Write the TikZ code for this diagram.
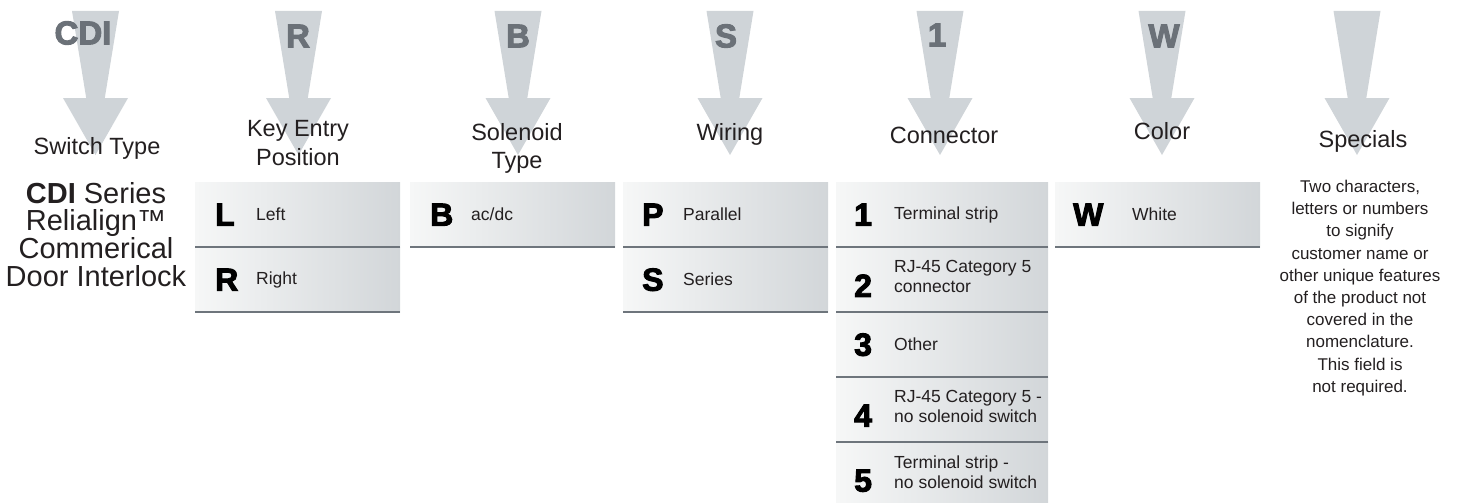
\documentclass[tikz,border=0pt]{standalone}
\usepackage{fontspec}
\setmainfont{Liberation Sans}
\newfontfamily\codefont{Liberation Sans}[BoldFeatures={FakeBold=3}]
\usepackage{tikz}
\usetikzlibrary{positioning}

\definecolor{pointergray}{HTML}{CFD4D8}
\definecolor{lettergray}{HTML}{6B7178}
\definecolor{rulegray}{HTML}{6E757C}
\definecolor{boxlight}{HTML}{F6F7F7}
\definecolor{boxdark}{HTML}{D2D6D9}
\definecolor{inkblack}{HTML}{231F20}

\begin{document}
\begin{tikzpicture}[x=1pt, y=-1pt]
      \tikzstyle{pointer} = [
        fill=pointergray
      ]

      \tikzstyle{topcode} = [
        text=lettergray,
        font=\codefont\bfseries\fontsize{33}{33}\selectfont,
        inner sep=0pt
      ]

      \tikzstyle{heading} = [
        text=inkblack,
        font=\fontsize{23.5}{29}\selectfont,
        align=center,
        inner sep=0pt
      ]

      \tikzstyle{optbox} = [
        rectangle,
        left color=boxlight,
        right color=boxdark,
        minimum width=205pt,
        minimum height=65pt,
        anchor=north west,
        inner sep=0pt
      ]

      \tikzstyle{optcode} = [
        text=black,
        font=\codefont\bfseries\fontsize{32}{32}\selectfont,
        anchor=west,
        inner sep=0pt
      ]

      \tikzstyle{opttext} = [
        text=inkblack,
        font=\fontsize{17.5}{20}\selectfont,
        align=left,
        anchor=west,
        inner sep=0pt
      ]

      \tikzstyle{rule} = [
        draw=rulegray,
        line width=2pt
      ]

      \useasboundingbox (0,0) rectangle (1461,503);

      % pointers
      \fill[pointer] (95.5,11) ++(-23.5,0) -- ++(47,0) -- ++(-14.2,87) -- ++(23.2,0) -- ++(-32.5,57) -- ++(-32.5,-57) -- ++(23.2,0) -- cycle;
      \fill[pointer] (298.5,11) ++(-23.5,0) -- ++(47,0) -- ++(-14.2,87) -- ++(23.2,0) -- ++(-32.5,57) -- ++(-32.5,-57) -- ++(23.2,0) -- cycle;
      \fill[pointer] (518,11) ++(-23.5,0) -- ++(47,0) -- ++(-14.2,87) -- ++(23.2,0) -- ++(-32.5,57) -- ++(-32.5,-57) -- ++(23.2,0) -- cycle;
      \fill[pointer] (730,11) ++(-23.5,0) -- ++(47,0) -- ++(-14.2,87) -- ++(23.2,0) -- ++(-32.5,57) -- ++(-32.5,-57) -- ++(23.2,0) -- cycle;
      \fill[pointer] (940,11) ++(-23.5,0) -- ++(47,0) -- ++(-14.2,87) -- ++(23.2,0) -- ++(-32.5,57) -- ++(-32.5,-57) -- ++(23.2,0) -- cycle;
      \fill[pointer] (1162,11) ++(-23.5,0) -- ++(47,0) -- ++(-14.2,87) -- ++(23.2,0) -- ++(-32.5,57) -- ++(-32.5,-57) -- ++(23.2,0) -- cycle;
      \fill[pointer] (1357,11) ++(-23.5,0) -- ++(47,0) -- ++(-14.2,87) -- ++(23.2,0) -- ++(-32.5,57) -- ++(-32.5,-57) -- ++(23.2,0) -- cycle;

      \node[topcode] (topCDI) at (83,33) {CDI};
      \node[topcode] (topR) at (298,36) {R};
      \node[topcode] (topB) at (518,36) {B};
      \node[topcode] (topS) at (726,36) {S};
      \node[topcode] (topOne) at (937,35) {1};
      \node[topcode] (topW) at (1164,36) {W};

      % headings
      \node[heading, anchor=base] (switchtype) at (97,154) {Switch Type};
      \node[heading, anchor=north] (keyentry) at (298,120) {Key Entry\\Position};
      \node[heading, anchor=north, font=\fontsize{23.5}{28}\selectfont] (solenoid) at (517,123) {Solenoid\\Type};
      \node[heading, anchor=base] (wiring) at (730,140) {Wiring};
      \node[heading, anchor=base] (connector) at (944,143) {Connector};
      \node[heading, anchor=base] (color) at (1162,139) {Color};
      \node[heading, anchor=base] (specials) at (1363,147) {Specials};

      \node[heading, anchor=north, font=\fontsize{29}{27.7}\selectfont] (series) at (96,182)
      {\textbf{CDI} Series\\Relialign™\\Commerical\\Door Interlock};

      \node[opttext, align=center, anchor=north, font=\fontsize{17}{22.2}\selectfont] (specialtext) at (1360,180)
      {Two characters,\\letters or numbers\\to signify\\customer name or\\other unique features\\of the product not\\covered in the\\nomenclature.\\This field is\\not required.};

      % key entry position
      \node[optbox] (keyL) at (195,182) {};
      \node[optbox] (keyR) at (195,247) {};
      \draw[rule] (keyL.south west) -- (keyL.south east);
      \draw[rule] (keyR.south west) -- (keyR.south east);
      \node[optcode] (keyLcode) at ([xshift=20pt]keyL.west) {L};
      \node[opttext] (keyLtext) at ([xshift=61pt]keyL.west) {Left};
      \node[optcode] (keyRcode) at ([xshift=20pt]keyR.west) {R};
      \node[opttext] (keyRtext) at ([xshift=61pt]keyR.west) {Right};

      % solenoid type
      \node[optbox] (solB) at (410,182) {};
      \draw[rule] (solB.south west) -- (solB.south east);
      \node[optcode] (solBcode) at ([xshift=20pt]solB.west) {B};
      \node[opttext] (solBtext) at ([xshift=61pt]solB.west) {ac/dc};

      % wiring
      \node[optbox] (wirP) at (623,182) {};
      \node[optbox] (wirS) at (623,247) {};
      \draw[rule] (wirP.south west) -- (wirP.south east);
      \draw[rule] (wirS.south west) -- (wirS.south east);
      \node[optcode] (wirPcode) at ([xshift=19pt]wirP.west) {P};
      \node[opttext] (wirPtext) at ([xshift=60pt]wirP.west) {Parallel};
      \node[optcode] (wirScode) at ([xshift=19pt]wirS.west) {S};
      \node[opttext] (wirStext) at ([xshift=60pt]wirS.west) {Series};

      % connector
      \node[optbox, minimum width=212pt] (conOne) at (836,182) {};
      \node[optbox, minimum width=212pt] (conTwo) at (836,247) {};
      \node[optbox, minimum width=212pt] (conThree) at (836,312) {};
      \node[optbox, minimum width=212pt] (conFour) at (836,377) {};
      \node[optbox, minimum width=212pt, minimum height=61pt] (conFive) at (836,442) {};
      \draw[rule] (conOne.south west) -- (conOne.south east);
      \draw[rule] (conTwo.south west) -- (conTwo.south east);
      \draw[rule] (conThree.south west) -- (conThree.south east);
      \draw[rule] (conFour.south west) -- (conFour.south east);
      \node[optcode] (conOnecode) at ([xshift=18pt]conOne.west) {1};
      \node[opttext] (conOnetext) at ([xshift=58pt]conOne.west) {Terminal strip};
      \node[optcode] (conTwocode) at ([xshift=18pt, yshift=-6pt]conTwo.west) {2};
      \node[opttext] (conTwotext) at ([xshift=58pt, yshift=3pt]conTwo.west) {RJ-45 Category 5\\connector};
      \node[optcode] (conThreecode) at ([xshift=18pt]conThree.west) {3};
      \node[opttext] (conThreetext) at ([xshift=58pt]conThree.west) {Other};
      \node[optcode] (conFourcode) at ([xshift=18pt, yshift=-6pt]conFour.west) {4};
      \node[opttext] (conFourtext) at ([xshift=58pt, yshift=3pt]conFour.west) {RJ-45 Category 5 -\\no solenoid switch};
      \node[optcode] (conFivecode) at ([xshift=18pt, yshift=-8pt]conFive.west) {5};
      \node[opttext] (conFivetext) at ([xshift=58pt]conFive.west) {Terminal strip -\\no solenoid switch};

      % color
      \node[optbox] (colW) at (1055,182) {};
      \draw[rule] (colW.south west) -- (colW.south east);
      \node[optcode] (colWcode) at ([xshift=18pt]colW.west) {W};
      \node[opttext] (colWtext) at ([xshift=77pt]colW.west) {White};
    \end{tikzpicture}
\end{document}
